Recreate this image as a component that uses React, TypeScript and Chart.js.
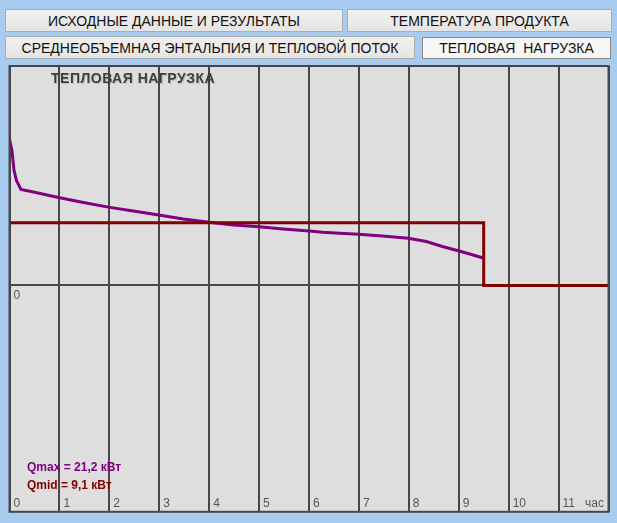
import React, { useEffect, useRef } from "react";
import { Chart, registerables } from "chart.js";

Chart.register(...registerables);

// ---- data ----
const hourLabels = ["0", "1", "2", "3", "4", "5", "6", "7", "8", "9", "10", "11"];
const unitLabel = "час";
const chartTitle = "ТЕПЛОВАЯ НАГРУЗКА";
const buttonLabels = [
  "ИСХОДНЫЕ ДАННЫЕ И РЕЗУЛЬТАТЫ",
  "ТЕМПЕРАТУРА ПРОДУКТА",
  "СРЕДНЕОБЪЕМНАЯ ЭНТАЛЬПИЯ И ТЕПЛОВОЙ ПОТОК",
  "ТЕПЛОВАЯ  НАГРУЗКА",
];
const qMaxLabel = "Qmax = 21,2 кВт";
const qMidLabel = "Qmid = 9,1 кВт";

// instantaneous heat load, kW
const loadHours = [0, 0.05, 0.09, 0.14, 0.23, 0.48, 0.98, 1.48, 1.98, 2.48, 2.99, 3.48, 4.0, 4.48, 5.0, 5.48, 6.01, 6.27, 6.61, 6.99, 7.47, 7.99, 8.35, 8.67, 8.99, 9.27, 9.49];
const loadKW = [21.2, 19.5, 16.7, 15.2, 13.9, 13.55, 12.74, 12.02, 11.35, 10.78, 10.2, 9.63, 9.15, 8.76, 8.52, 8.19, 7.9, 7.72, 7.57, 7.43, 7.18, 6.85, 6.37, 5.65, 5.03, 4.45, 3.98];

// mean heat load (step), kW
const stepHours = [0, 9.5, 9.5, 12];
const stepKW = [9.1, 9.1, 0, 0];

const FONT = "'Liberation Sans', Arial, sans-serif";

const framePlugin = {
  id: "frame",
  beforeDraw(chart: any) {
    const { ctx, chartArea: a } = chart;
    ctx.save();
    ctx.fillStyle = "#dedede";
    ctx.fillRect(a.left, a.top, a.right - a.left, a.bottom - a.top);
    ctx.restore();
  },
  afterDraw(chart: any) {
    const { ctx, chartArea: a } = chart;
    ctx.save();
    ctx.strokeStyle = "#474747";
    ctx.lineWidth = 2;
    ctx.strokeRect(a.left, a.top, a.right - a.left, a.bottom - a.top);
    ctx.restore();
  },
};

function ChartView() {
  const ref = useRef<HTMLCanvasElement | null>(null);
  useEffect(() => {
    if (!ref.current) return;
    const chart = new Chart(ref.current, {
      type: "scatter",
      data: {
        datasets: [
          {
            label: "Qmid",
            data: stepHours.map((h, i) => ({ x: h, y: stepKW[i] })),
            showLine: true,
            borderColor: "#800000",
            borderWidth: 3,
            pointRadius: 0,
            tension: 0,
          },
          {
            label: "Q",
            data: loadHours.map((h, i) => ({ x: h, y: loadKW[i] })),
            showLine: true,
            borderColor: "#800080",
            borderWidth: 3,
            pointRadius: 0,
            tension: 0,
          },
        ],
      },
      options: {
        animation: false,
        responsive: false,
        layout: { padding: { left: 1.5, right: 8.5, top: 66, bottom: 6 } },
        plugins: { legend: { display: false }, tooltip: { enabled: false }, title: { display: false } },
        scales: {
          x: {
            type: "linear",
            position: "bottom",
            min: 0,
            max: 12,
            border: { display: false },
            grid: { color: "#474747", lineWidth: 2, drawTicks: false },
            afterBuildTicks: (s: any) => {
              s.ticks = Array.from({ length: 13 }, (_, i) => ({ value: i }));
            },
            ticks: {
              mirror: true,
              padding: 1,
              align: "start",
              labelOffset: 4,
              maxRotation: 0,
              autoSkip: false,
              color: "#555555",
              font: { family: FONT, size: 12 },
              callback: (v: any) => {
                const i = Number(v);
                const l = hourLabels[i];
                if (l === undefined) return "";
                return i === hourLabels.length - 1 ? l + "   " + unitLabel : l;
              },
            },
          },
          y: {
            type: "linear",
            position: "left",
            min: -32.8,
            max: 31.8,
            border: { display: false },
            grid: { color: "#474747", lineWidth: 2, drawTicks: false },
            afterBuildTicks: (s: any) => {
              s.ticks = [{ value: 0 }];
            },
            ticks: {
              mirror: true,
              padding: 4,
              labelOffset: 10,
              color: "#555555",
              font: { family: FONT, size: 12 },
              callback: (v: any) => String(v),
            },
          },
        },
      },
      plugins: [framePlugin],
    } as any);
    return () => chart.destroy();
  }, []);
  return <canvas ref={ref} width={617} height={523} style={{ position: "absolute", left: 0, top: 0 }} />;
}

const btnBase: React.CSSProperties = {
  position: "absolute",
  boxSizing: "border-box",
  display: "flex",
  alignItems: "center",
  justifyContent: "center",
  fontFamily: FONT,
  fontSize: 14,
  color: "#111",
  whiteSpace: "pre",
  border: "1px solid #adadad",
  background: "linear-gradient(#f0f0f0, #e5e5e5)",
};

export default function App() {
  const btns = [
    { l: 5, t: 9, w: 338, h: 23, pressed: false },
    { l: 347, t: 9, w: 265, h: 23, pressed: false },
    { l: 5, t: 36, w: 410, h: 23, pressed: false },
    { l: 422, t: 37, w: 189, h: 22, pressed: true },
  ];
  return (
    <div style={{ position: "fixed", left: 0, top: 0, width: 617, height: 523, background: "#a8cbf0", overflow: "hidden" }}>
      <ChartView />
      {btns.map((b, i) => (
        <div
          key={i}
          style={{
            ...btnBase,
            left: b.l,
            top: b.t,
            width: b.w,
            height: b.h,
            ...(b.pressed ? { background: "#f7f7f7", border: "1px solid #8a8a8a" } : {}),
          }}
        >
          {buttonLabels[i]}
        </div>
      ))}
      <div style={{ position: "absolute", left: 51, top: 70, fontFamily: FONT, fontSize: 14, letterSpacing: 0.5, fontWeight: "bold", color: "#3f3f3f", textShadow: "1px 1px 1px rgba(0,0,0,0.15)", whiteSpace: "pre" }}>
        {chartTitle}
      </div>
      <div style={{ position: "absolute", left: 27, top: 460, fontFamily: FONT, fontSize: 12, fontWeight: "bold", color: "#800080", whiteSpace: "pre" }}>
        {qMaxLabel}
      </div>
      <div style={{ position: "absolute", left: 27, top: 478, fontFamily: FONT, fontSize: 12, fontWeight: "bold", color: "#800000", whiteSpace: "pre" }}>
        {qMidLabel}
      </div>
    </div>
  );
}
